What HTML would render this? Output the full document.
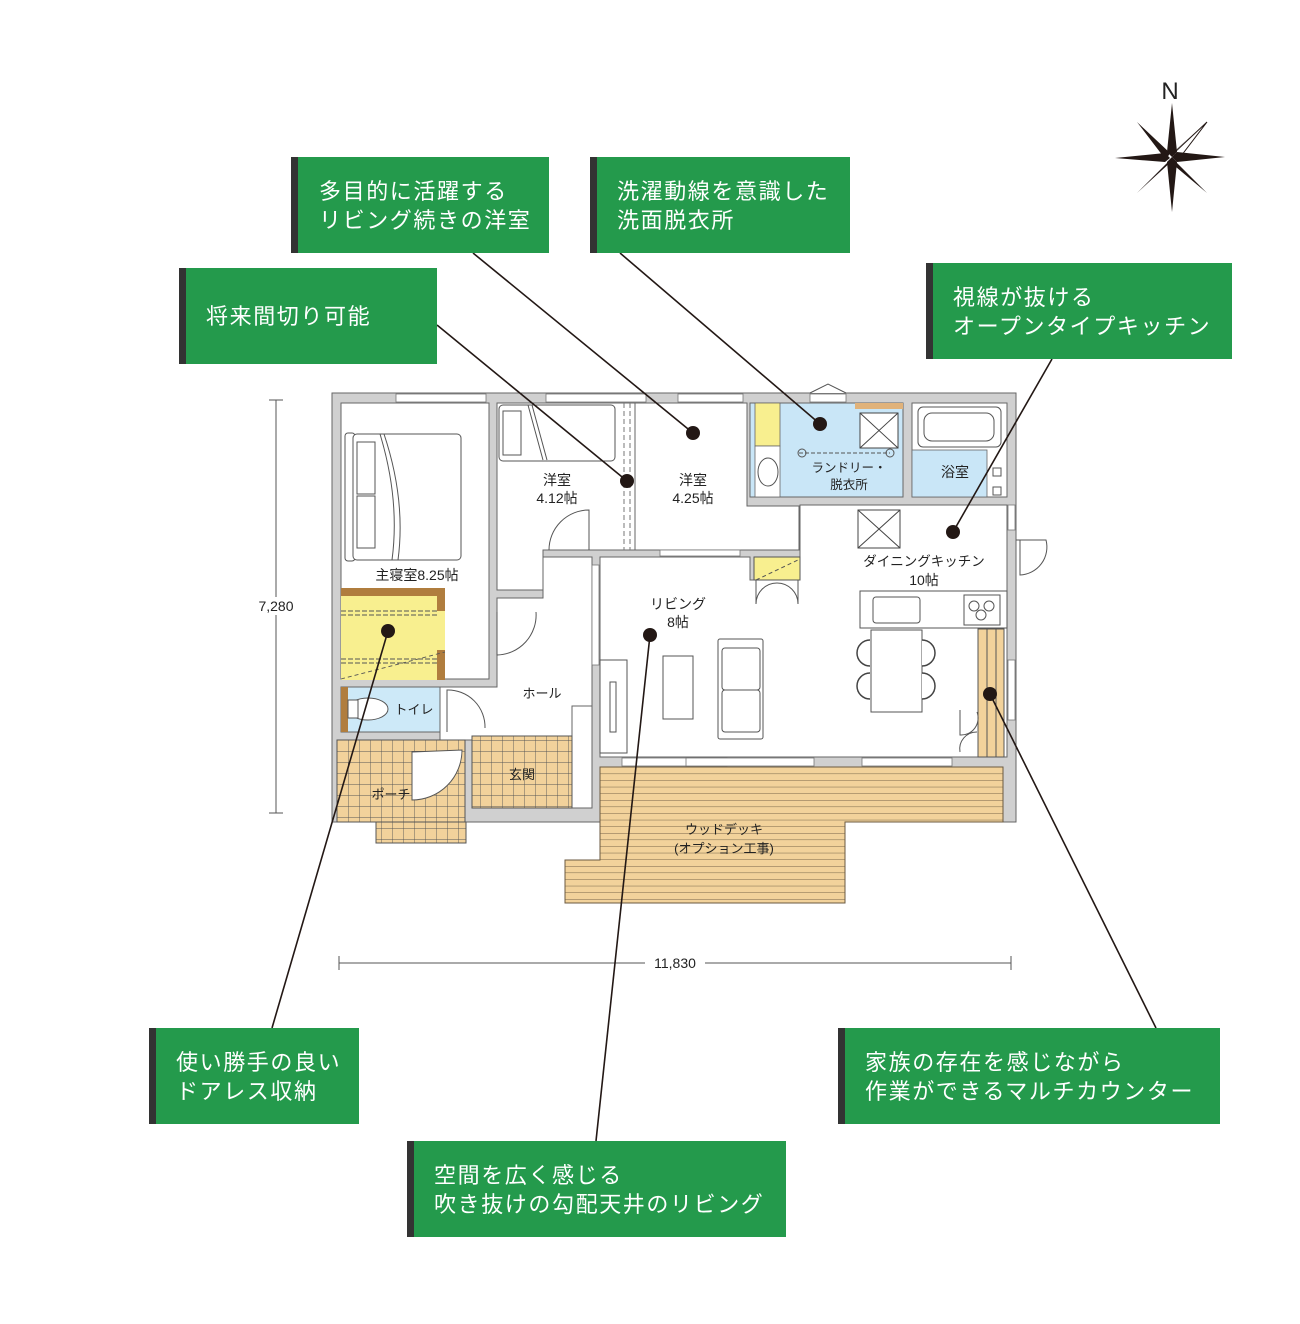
<!DOCTYPE html>
<html><head><meta charset="utf-8"><style>
html,body{margin:0;padding:0;background:#fff;}
svg{display:block;}
text{font-family:"Liberation Sans","Noto Sans CJK JP",sans-serif;}
.co text{letter-spacing:1.6px;}
</style></head><body>
<svg width="1300" height="1324" viewBox="0 0 1300 1324" xmlns="http://www.w3.org/2000/svg">
<defs>
<pattern id="tile" x="337" y="740" width="11" height="11" patternUnits="userSpaceOnUse">
<rect width="11" height="11" fill="#f2d29b"/><path d="M0 0H11M0 0V11" stroke="#555" stroke-width="0.9"/></pattern>
<pattern id="deck" x="0" y="767" width="10" height="6.6" patternUnits="userSpaceOnUse">
<rect width="10" height="6.6" fill="#f2d29b"/><path d="M0 0H10" stroke="#6b5a40" stroke-width="0.9"/></pattern>
</defs>

<rect x="332" y="393" width="684" height="429" fill="#d0d0d0" stroke="#666" stroke-width="1"/>
<g fill="#fff" stroke="#666" stroke-width="1">
<rect x="341" y="403" width="148" height="276"/>
<polygon points="497,403 635,403 635,550 543,550 543,590 497,590"/>
<polygon points="635,403 747,403 747,506 799,506 799,550 635,550"/>
<polygon points="600,557 750,557 750,580 800,580 800,505 1007,505 1007,757 600,757"/>
<polygon points="497,598 543,598 543,557 592,557 592,740 440,740 440,687 497,687"/>
<rect x="572" y="706" width="20" height="102"/>
<rect x="912" y="403" width="95" height="94"/>
</g>
<rect x="750" y="403" width="153" height="94" fill="#c9e6f7" stroke="#666"/>
<rect x="755" y="403" width="25" height="43" fill="#f8ef8f" stroke="#666" stroke-width="0.8"/>
<rect x="755" y="446" width="25" height="51" fill="#fff" stroke="#666" stroke-width="0.8"/>
<ellipse cx="768" cy="472" rx="10" ry="14" fill="#fff" stroke="#555"/>
<rect x="860" y="413" width="38" height="35" fill="#fff" stroke="#444"/>
<path d="M860 413L898 448M898 413L860 448" stroke="#444"/>
<path d="M799 453H890" stroke="#555" stroke-dasharray="4 2"/>
<circle cx="802" cy="453" r="4" fill="none" stroke="#555"/><circle cx="890" cy="453" r="4" fill="none" stroke="#555"/>
<rect x="855" y="403" width="48" height="6" fill="#e0b27a"/>
<rect x="912" y="450" width="75" height="47" fill="#c9e6f7" stroke="#666" stroke-width="0.8"/>
<rect x="918" y="407" width="83" height="40" rx="5" fill="#fff" stroke="#555"/>
<rect x="924" y="413" width="70" height="28" rx="8" fill="#fff" stroke="#555"/>
<rect x="993" y="468" width="8" height="8" fill="#fff" stroke="#555"/><rect x="993" y="487" width="8" height="8" fill="#fff" stroke="#555"/>
<rect x="345" y="433" width="10" height="128" rx="3" fill="#fff" stroke="#555"/>
<rect x="353" y="434" width="108" height="126" rx="4" fill="#fff" stroke="#555"/>
<path d="M380 434Q400 500 392 560M384 434Q406 500 398 560" fill="none" stroke="#555"/>
<rect x="357" y="442" width="18" height="52" fill="#fff" stroke="#555"/><rect x="357" y="496" width="18" height="52" fill="#fff" stroke="#555"/>
<rect x="341" y="588" width="104" height="92" fill="#f8ef8f"/>
<path d="M341 588H445V611H437V596H341Z" fill="#b07d3e"/>
<path d="M437 650H445V680H437Z" fill="#b07d3e"/>
<path d="M341 611H437M341 615H437M341 659H437M341 663H437" stroke="#555" stroke-dasharray="5 2" stroke-width="0.9"/>
<path d="M341 679L445 652" stroke="#555" stroke-dasharray="4 3" stroke-width="0.9"/>
<rect x="499" y="405" width="116" height="56" rx="4" fill="#fff" stroke="#555"/>
<rect x="503" y="411" width="18" height="44" fill="#fff" stroke="#555"/>
<path d="M528 405L543 460M532 405L547 460" stroke="#555"/>
<path d="M624 403V550M630 403V550" stroke="#777" stroke-dasharray="5 3"/>
<path d="M549 550A40 40 0 0 1 589 510V550" fill="none" stroke="#555"/>
<rect x="754" y="557" width="46" height="23" fill="#f8ef8f" stroke="#555"/>
<path d="M756 580L798 560" stroke="#555" stroke-dasharray="4 3"/>
<path d="M756 580V604M798 580V604M756 604A21 21 0 0 1 777 583M798 604A21 21 0 0 0 777 583" fill="none" stroke="#555"/>
<rect x="341" y="687" width="99" height="45" fill="#cde9f8" stroke="#666"/>
<rect x="341" y="687" width="7" height="45" fill="#b07d3e"/>
<ellipse cx="368" cy="709" rx="20" ry="11" fill="#fff" stroke="#555"/>
<rect x="348" y="700" width="10" height="18" fill="#fff" stroke="#555"/>
<path d="M447 732V690A37 37 0 0 1 485 728" fill="none" stroke="#555"/>
<path d="M497 612V655A40 40 0 0 0 536 612" fill="none" stroke="#555"/>
<rect x="472" y="736" width="100" height="72" fill="url(#tile)" stroke="#555"/>
<path d="M337 740H465V822H337Z" fill="url(#tile)" stroke="#555"/>
<rect x="376" y="822" width="90" height="21" fill="url(#tile)" stroke="#555"/>
<path d="M412 752V800A50 50 0 0 0 462 750Z" fill="#fff" stroke="#555"/>
<path d="M600 767H1003V822H845V903H565V860H600Z" fill="url(#deck)" stroke="#6b5a40"/>
<rect x="600" y="660" width="27" height="93" fill="#fff" stroke="#555"/>
<rect x="610" y="682" width="6" height="50" fill="#fff" stroke="#555"/>
<rect x="663" y="656" width="30" height="63" fill="#fff" stroke="#555"/>
<rect x="718" y="639" width="45" height="100" rx="2" fill="#fff" stroke="#555"/>
<rect x="722" y="648" width="38" height="42" rx="3" fill="#fff" stroke="#555"/><rect x="722" y="690" width="38" height="42" rx="3" fill="#fff" stroke="#555"/>
<rect x="860" y="591" width="147" height="37" fill="#fff" stroke="#555"/>
<rect x="873" y="597" width="47" height="26" rx="3" fill="#fff" stroke="#555"/>
<rect x="964" y="595" width="36" height="30" fill="#fff" stroke="#555"/>
<circle cx="974" cy="606" r="5" fill="none" stroke="#555"/><circle cx="989" cy="606" r="5" fill="none" stroke="#555"/><circle cx="981" cy="615" r="5" fill="none" stroke="#555"/>
<rect x="858" y="510" width="42" height="38" fill="#fff" stroke="#444"/><path d="M858 510L900 548M900 510L858 548" stroke="#444"/>
<rect x="871" y="630" width="51" height="82" fill="#fff" stroke="#555"/>
<g fill="#fff" stroke="#444" stroke-width="1.5">
<path d="M870 640A13 13 0 0 0 870 666"/><path d="M870 673A13 13 0 0 0 870 699"/>
<path d="M922 640A13 13 0 0 1 922 666"/><path d="M922 673A13 13 0 0 1 922 699"/></g>
<rect x="978" y="629" width="26" height="128" fill="#f2d29b" stroke="#555"/>
<path d="M987 629V757M996 629V757" stroke="#555"/>
<path d="M960 710V735A17 17 0 0 0 977 712M960 752A17 17 0 0 1 977 732" fill="none" stroke="#555"/>
<path d="M1016 540H1020V575A28 28 0 0 0 1046 540H1016" fill="#fff" stroke="#555"/>
<g fill="#fff" stroke="#777" stroke-width="0.8">
<rect x="396" y="394" width="90" height="8"/><rect x="546" y="394" width="100" height="8"/><rect x="678" y="394" width="65" height="8"/>
<rect x="810" y="394" width="36" height="8"/><rect x="1008" y="505" width="7" height="25"/><rect x="1008" y="660" width="7" height="60"/>
<rect x="622" y="758" width="105" height="8"/><rect x="862" y="758" width="90" height="8"/><rect x="686" y="758" width="128" height="8"/>
<rect x="592" y="565" width="7" height="100"/><rect x="660" y="550" width="80" height="6"/></g>
<path d="M810 393L828 384L846 393" fill="#fff" stroke="#555"/>

<g font-size="14" fill="#222" text-anchor="middle">
<text x="557" y="485">洋室</text><text x="557" y="503">4.12帖</text>
<text x="693" y="485">洋室</text><text x="693" y="503">4.25帖</text>
<text x="417" y="580">主寝室8.25帖</text>
<text x="678" y="609">リビング</text><text x="678" y="627">8帖</text>
<text x="924" y="566" font-size="13.5">ダイニングキッチン</text><text x="924" y="585">10帖</text>
<text x="849" y="472" font-size="12.5">ランドリー・</text><text x="849" y="489" font-size="12.5">脱衣所</text>
<text x="955" y="477">浴室</text>
<text x="542" y="698" font-size="13">ホール</text>
<text x="414" y="714" font-size="13">トイレ</text>
<text x="522" y="779" font-size="13">玄関</text>
<text x="391" y="799" font-size="13">ポーチ</text>
<text x="724" y="834" font-size="13">ウッドデッキ</text>
<text x="724" y="853" font-size="13">(オプション工事)</text>
</g>

<g stroke="#555" stroke-width="1">
<path d="M276 400V813M269 400H283M269 813H283"/>
<path d="M339 963H1011M339 956V970M1011 956V970"/></g>
<rect x="252" y="597" width="48" height="18" fill="#fff"/>
<text x="276" y="611" font-size="14" text-anchor="middle" fill="#222">7,280</text>
<rect x="645" y="954" width="60" height="18" fill="#fff"/>
<text x="675" y="968" font-size="14" text-anchor="middle" fill="#222">11,830</text>

<text x="1170" y="99" font-size="24" text-anchor="middle" font-family="Liberation Serif,serif" fill="#222">N</text>
<g fill="#231815">
<path d="M1172 103L1177 152L1172 157L1167 152Z"/><path d="M1172 212L1167 162L1172 157L1177 162Z"/>
<path d="M1115 158L1165 153L1170 158L1165 162Z"/><path d="M1225 157L1177 162L1172 157L1177 152Z"/>
<path d="M1137 122L1170 153L1166 160Z"/><path d="M1207 122L1174 153L1178 160Z" fill="none" stroke="#231815"/>
<path d="M1207 122L1176 150L1170 155Z"/><path d="M1137 193L1168 162L1173 160Z"/>
<path d="M1207 193L1175 161L1170 162Z"/></g>

<g stroke="#231815" stroke-width="1.6">
<path d="M473 253L693 433"/><path d="M620 253L820 424"/><path d="M437 325L627 481"/>
<path d="M1052 359L953 532"/><path d="M272 1028L388 631"/><path d="M596 1141L650 635"/><path d="M1156 1028L990 694"/></g>
<g fill="#231815">
<circle cx="693" cy="433" r="7"/><circle cx="820" cy="424" r="7"/><circle cx="627" cy="481" r="7"/>
<circle cx="953" cy="532" r="7"/><circle cx="388" cy="631" r="7"/><circle cx="650" cy="635" r="7"/><circle cx="990" cy="694" r="7"/></g>

<g class="co" font-size="22" fill="#fff">
<rect x="291" y="157" width="258" height="96" fill="#249a4c"/><rect x="291" y="157" width="7" height="96" fill="#333"/>
<text x="319" y="199">多目的に活躍する</text><text x="319" y="228">リビング続きの洋室</text>
<rect x="590" y="157" width="260" height="96" fill="#249a4c"/><rect x="590" y="157" width="7" height="96" fill="#333"/>
<text x="617" y="199">洗濯動線を意識した</text><text x="617" y="228">洗面脱衣所</text>
<rect x="179" y="268" width="258" height="96" fill="#249a4c"/><rect x="179" y="268" width="7" height="96" fill="#333"/>
<text x="206" y="324">将来間切り可能</text>
<rect x="926" y="263" width="306" height="96" fill="#249a4c"/><rect x="926" y="263" width="7" height="96" fill="#333"/>
<text x="953" y="305">視線が抜ける</text><text x="953" y="334">オープンタイプキッチン</text>
<rect x="149" y="1028" width="210" height="96" fill="#249a4c"/><rect x="149" y="1028" width="7" height="96" fill="#333"/>
<text x="176" y="1070">使い勝手の良い</text><text x="176" y="1099">ドアレス収納</text>
<rect x="407" y="1141" width="379" height="96" fill="#249a4c"/><rect x="407" y="1141" width="7" height="96" fill="#333"/>
<text x="434" y="1183">空間を広く感じる</text><text x="434" y="1212">吹き抜けの勾配天井のリビング</text>
<rect x="838" y="1028" width="382" height="96" fill="#249a4c"/><rect x="838" y="1028" width="7" height="96" fill="#333"/>
<text x="865" y="1070">家族の存在を感じながら</text><text x="865" y="1099">作業ができるマルチカウンター</text>
</g>
</svg>
</body></html>
